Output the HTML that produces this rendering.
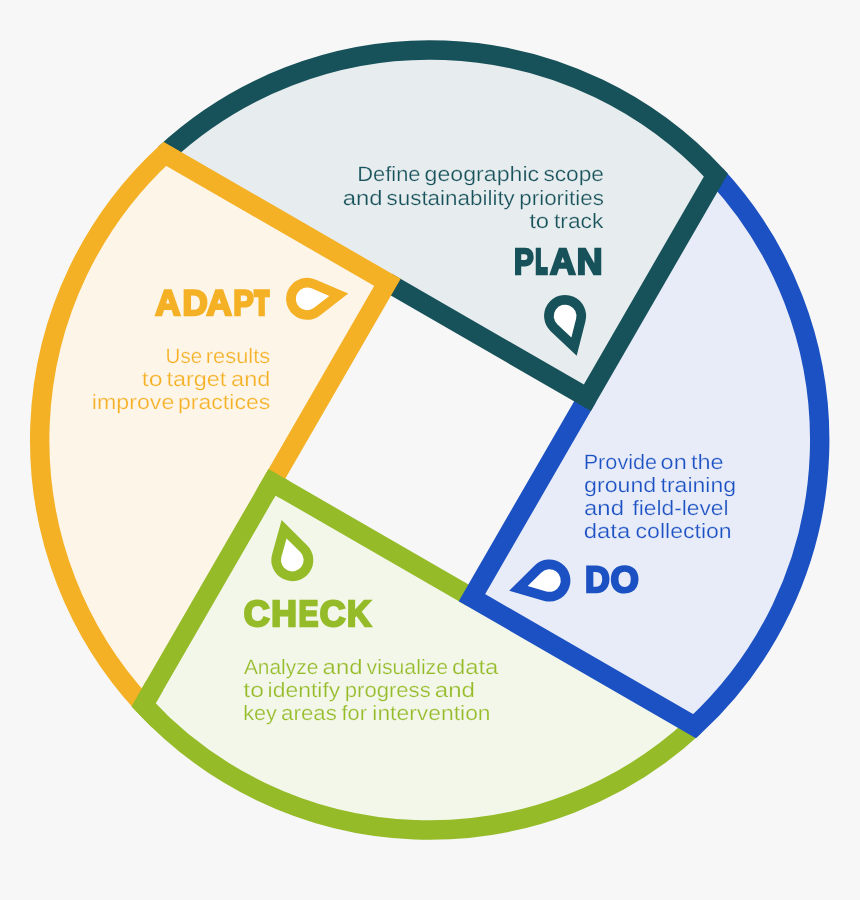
<!DOCTYPE html>
<html lang="en"><head><meta charset="utf-8"><title>Plan Do Check Adapt</title>
<style>
html,body{margin:0;padding:0;background:#f7f7f7;}
body{width:860px;height:900px;overflow:hidden;font-family:"Liberation Sans",sans-serif;}
svg{display:block;will-change:transform}
.d{font-family:"Liberation Sans",sans-serif;font-size:20.8px;text-rendering:geometricPrecision;white-space:pre}
.h{font-family:"Liberation Sans",sans-serif;font-weight:bold;stroke-linejoin:miter;text-rendering:geometricPrecision}
</style></head><body>
<svg width="860" height="900" viewBox="0 0 860 900">
<defs><clipPath id="gc"><circle cx="272.06" cy="482.24" r="17"/><circle cx="143.49" cy="704.93" r="24"/></clipPath></defs>
<rect width="860" height="900" fill="#f7f7f7"/>
<path d="M694.63 726.21 L272.06 482.24 L143.49 704.93 A390 390 0 0 0 694.63 726.21 Z" fill="#f3f7ea"/>
<path d="M715.91 175.07 L471.94 597.64 L694.63 726.21 A390 390 0 0 0 715.91 175.07 Z" fill="#e8ecf9"/>
<path d="M164.77 153.79 L587.34 397.76 L715.91 175.07 A390 390 0 0 0 164.77 153.79 Z" fill="#e7ecef"/>
<path d="M143.49 704.93 L387.46 282.36 L164.77 153.79 A390 390 0 0 0 143.49 704.93 Z" fill="#fef5e9"/>
<g fill="none" stroke-width="19.4" stroke-linejoin="miter" stroke-miterlimit="10" stroke-linecap="butt">
<path d="M471.94 597.64 L272.06 482.24 L143.49 704.93 A390 390 0 0 0 694.63 726.21" stroke="#95bb29"/>
<path d="M587.34 397.76 L471.94 597.64 L694.63 726.21 A390 390 0 0 0 715.91 175.07" stroke="#1b51c2"/>
<path d="M387.46 282.36 L587.34 397.76 L715.91 175.07 A390 390 0 0 0 164.77 153.79" stroke="#17525a"/>
<path d="M272.06 482.24 L387.46 282.36 L164.77 153.79 A390 390 0 0 0 143.49 704.93" stroke="#f5b125"/>
<path d="M471.94 597.64 L272.06 482.24 L143.49 704.93 A390 390 0 0 0 694.63 726.21" stroke="#95bb29" clip-path="url(#gc)"/>
</g>
<g transform="translate(565.10 316.00) rotate(73.80)"><path d="M41.48 0 L10.63 -18.11 A21.00 21.00 0 1 0 10.63 18.11 Z" fill="#17525a"/><path d="M22.42 0 L5.75 -9.79 A11.35 11.35 0 1 0 5.75 9.79 Z" fill="#ffffff"/></g>
<g transform="translate(549.40 580.50) rotate(165.80)"><path d="M41.48 0 L10.63 -18.11 A21.00 21.00 0 1 0 10.63 18.11 Z" fill="#1b51c2"/><path d="M22.42 0 L5.75 -9.79 A11.35 11.35 0 1 0 5.75 9.79 Z" fill="#ffffff"/></g>
<g transform="translate(292.30 560.10) rotate(255.10)"><path d="M41.48 0 L10.63 -18.11 A21.00 21.00 0 1 0 10.63 18.11 Z" fill="#95bb29"/><path d="M22.42 0 L5.75 -9.79 A11.35 11.35 0 1 0 5.75 9.79 Z" fill="#ffffff"/></g>
<g transform="translate(307.10 298.80) rotate(352.60)"><path d="M41.48 0 L10.63 -18.11 A21.00 21.00 0 1 0 10.63 18.11 Z" fill="#f5b125"/><path d="M22.42 0 L5.75 -9.79 A11.35 11.35 0 1 0 5.75 9.79 Z" fill="#ffffff"/></g>
<g class="d" fill="#17525a" stroke="#e7ecef" stroke-width="0.25">
<text y="181" xml:space="preserve"><tspan x="357.25" textLength="63.29" lengthAdjust="spacingAndGlyphs">Define</tspan> <tspan x="424.63" textLength="114.50" lengthAdjust="spacingAndGlyphs">geographic</tspan> <tspan x="543.42" textLength="60.59" lengthAdjust="spacingAndGlyphs">scope</tspan></text>
<text y="205" xml:space="preserve"><tspan x="342.72" textLength="39.86" lengthAdjust="spacingAndGlyphs">and</tspan> <tspan x="386.51" textLength="128.34" lengthAdjust="spacingAndGlyphs">sustainability</tspan> <tspan x="519.33" textLength="84.51" lengthAdjust="spacingAndGlyphs">priorities</tspan></text>
<text y="228" xml:space="preserve"><tspan x="529.23" textLength="19.95" lengthAdjust="spacingAndGlyphs">to</tspan> <tspan x="553.97" textLength="49.40" lengthAdjust="spacingAndGlyphs">track</tspan></text>
</g>
<g class="d" fill="#f5b125" stroke="#fef5e9" stroke-width="0.25">
<text y="363" xml:space="preserve"><tspan x="165.61" textLength="36.49" lengthAdjust="spacingAndGlyphs">Use</tspan> <tspan x="205.85" textLength="64.30" lengthAdjust="spacingAndGlyphs">results</tspan></text>
<text y="386" xml:space="preserve"><tspan x="141.72" textLength="20.77" lengthAdjust="spacingAndGlyphs">to</tspan> <tspan x="166.41" textLength="59.79" lengthAdjust="spacingAndGlyphs">target</tspan> <tspan x="231.11" textLength="39.39" lengthAdjust="spacingAndGlyphs">and</tspan></text>
<text y="409" xml:space="preserve"><tspan x="91.83" textLength="82.50" lengthAdjust="spacingAndGlyphs">improve</tspan> <tspan x="178.00" textLength="92.26" lengthAdjust="spacingAndGlyphs">practices</tspan></text>
</g>
<g class="d" fill="#1b51c2" stroke="#e8ecf9" stroke-width="0.25">
<text y="469" xml:space="preserve"><tspan x="583.68" textLength="73.44" lengthAdjust="spacingAndGlyphs">Provide</tspan> <tspan x="660.62" textLength="26.11" lengthAdjust="spacingAndGlyphs">on</tspan> <tspan x="690.99" textLength="32.68" lengthAdjust="spacingAndGlyphs">the</tspan></text>
<text y="492" xml:space="preserve"><tspan x="584.04" textLength="72.16" lengthAdjust="spacingAndGlyphs">ground</tspan> <tspan x="660.52" textLength="75.63" lengthAdjust="spacingAndGlyphs">training</tspan></text>
<text y="515" xml:space="preserve"><tspan x="584.08" textLength="39.86" lengthAdjust="spacingAndGlyphs">and</tspan>  <tspan x="632.44" textLength="96.12" lengthAdjust="spacingAndGlyphs">field-level</tspan></text>
<text y="538" xml:space="preserve"><tspan x="583.79" textLength="46.49" lengthAdjust="spacingAndGlyphs">data</tspan> <tspan x="635.61" textLength="96.00" lengthAdjust="spacingAndGlyphs">collection</tspan></text>
</g>
<g class="d" fill="#95bb29" stroke="#f3f7ea" stroke-width="0.25">
<text y="674" xml:space="preserve"><tspan x="243.91" textLength="74.42" lengthAdjust="spacingAndGlyphs">Analyze</tspan> <tspan x="322.63" textLength="39.95" lengthAdjust="spacingAndGlyphs">and</tspan> <tspan x="366.54" textLength="81.53" lengthAdjust="spacingAndGlyphs">visualize</tspan> <tspan x="451.95" textLength="46.46" lengthAdjust="spacingAndGlyphs">data</tspan></text>
<text y="697" xml:space="preserve"><tspan x="243.34" textLength="20.60" lengthAdjust="spacingAndGlyphs">to</tspan> <tspan x="267.64" textLength="72.60" lengthAdjust="spacingAndGlyphs">identify</tspan> <tspan x="344.80" textLength="85.89" lengthAdjust="spacingAndGlyphs">progress</tspan> <tspan x="434.80" textLength="40.01" lengthAdjust="spacingAndGlyphs">and</tspan></text>
<text y="720" xml:space="preserve"><tspan x="243.16" textLength="33.70" lengthAdjust="spacingAndGlyphs">key</tspan> <tspan x="281.14" textLength="55.78" lengthAdjust="spacingAndGlyphs">areas</tspan> <tspan x="341.52" textLength="25.39" lengthAdjust="spacingAndGlyphs">for</tspan> <tspan x="372.30" textLength="118.29" lengthAdjust="spacingAndGlyphs">intervention</tspan></text>
</g>
<text class="h" fill="#17525a" stroke="#17525a"><tspan x="513.94" y="274" font-size="36.33" stroke-width="2.4" textLength="19.71" lengthAdjust="spacingAndGlyphs">P</tspan><tspan x="535.78" y="273" font-size="33.43" stroke-width="4.4" textLength="11.40" lengthAdjust="spacingAndGlyphs">L</tspan><tspan x="550.11" y="274" font-size="36.33" stroke-width="2.4" textLength="25.50" lengthAdjust="spacingAndGlyphs">A</tspan><tspan x="576.70" y="274" font-size="36.33" stroke-width="2.4" textLength="25.74" lengthAdjust="spacingAndGlyphs">N</tspan></text>
<text class="h" fill="#f5b125" stroke="#f5b125"><tspan x="155.36" y="315" font-size="35.85" stroke-width="2.4" textLength="25.22" lengthAdjust="spacingAndGlyphs">A</tspan><tspan x="182.40" y="315" font-size="35.85" stroke-width="2.4" textLength="25.21" lengthAdjust="spacingAndGlyphs">D</tspan><tspan x="206.60" y="315" font-size="35.85" stroke-width="2.4" textLength="25.37" lengthAdjust="spacingAndGlyphs">A</tspan><tspan x="233.23" y="315" font-size="35.85" stroke-width="2.4" textLength="20.51" lengthAdjust="spacingAndGlyphs">P</tspan><tspan x="254.76" y="314" font-size="32.95" stroke-width="4.4" textLength="13.88" lengthAdjust="spacingAndGlyphs">T</tspan></text>
<text class="h" fill="#1b51c2" stroke="#1b51c2"><tspan x="584.93" y="592" font-size="36.84" stroke-width="2.4" textLength="24.79" lengthAdjust="spacingAndGlyphs">D</tspan><tspan x="610.57" y="592" font-size="36.77" stroke-width="2.4" textLength="28.35" lengthAdjust="spacingAndGlyphs">O</tspan></text>
<text class="h" fill="#95bb29" stroke="#95bb29"><tspan x="243.78" y="626" font-size="36.26" stroke-width="2.4" textLength="25.95" lengthAdjust="spacingAndGlyphs">C</tspan><tspan x="271.29" y="626" font-size="36.26" stroke-width="2.4" textLength="25.66" lengthAdjust="spacingAndGlyphs">H</tspan><tspan x="298.44" y="626" font-size="36.26" stroke-width="2.4" textLength="19.92" lengthAdjust="spacingAndGlyphs">E</tspan><tspan x="319.80" y="626" font-size="36.26" stroke-width="2.4" textLength="25.83" lengthAdjust="spacingAndGlyphs">C</tspan><tspan x="346.95" y="626" font-size="36.26" stroke-width="2.4" textLength="24.10" lengthAdjust="spacingAndGlyphs">K</tspan></text>

</svg>
</body></html>
